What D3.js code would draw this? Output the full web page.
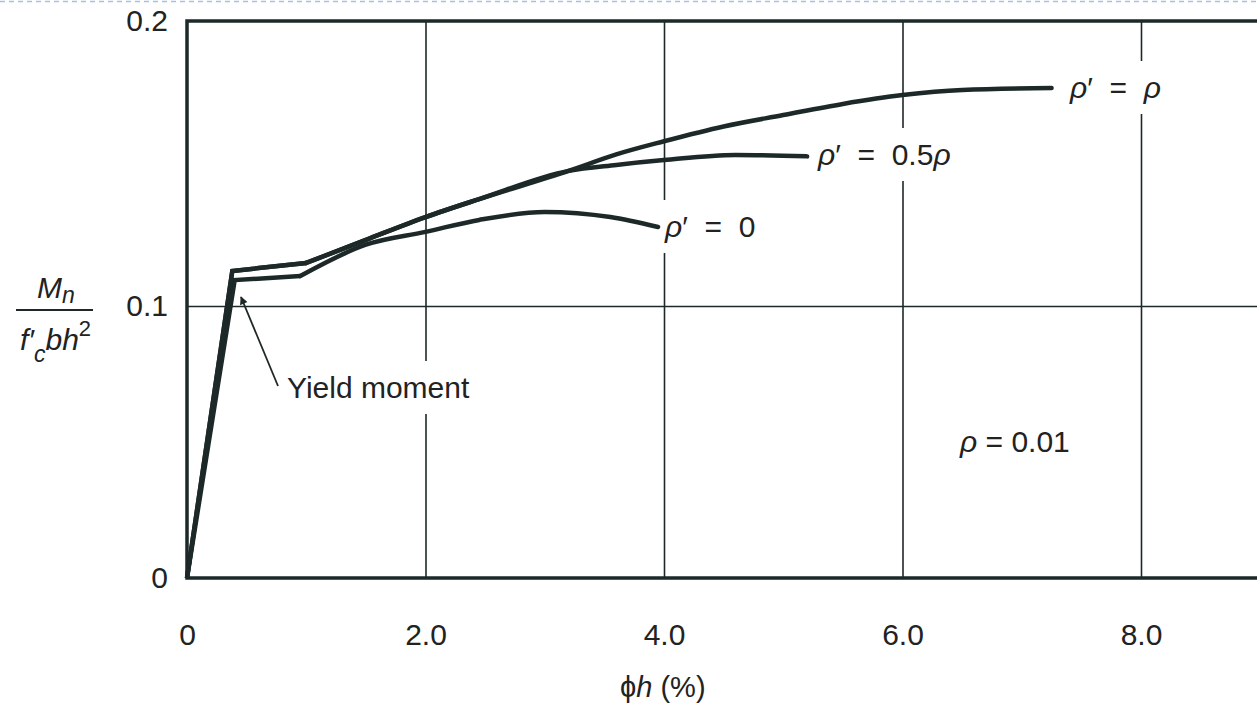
<!DOCTYPE html>
<html>
<head>
	<meta charset="utf-8">
	<title>Moment-curvature</title>
	<script src="https://d3js.org/d3.v7.min.js"></script>
	<style>
		body { margin: 0; background: #fff; }
		svg { display: block; }
		text { fill: #222; font-family: "Liberation Sans", Arial, sans-serif; }
		.tick text { font-family: "Liberation Sans Narrow", "Liberation Sans", Arial, sans-serif; font-size: 30px; }
	</style>
</head>
<body>
	<script>

		// curvature phi*h (%) and Mn / (f'c b h^2)
		var phiRho  = [0, 0.38, 1.0, 1.5, 2.0, 2.45, 3.2, 3.6, 4.0, 4.5, 5.0, 5.5, 6.0, 6.5, 7.25]
		var mRho    = [0, 0.1123, 0.1151, 0.1232, 0.1312, 0.1375, 0.1474, 0.1532, 0.1578, 0.1630, 0.1670, 0.1709, 0.1740, 0.1758, 0.1765]

		var phiHalf = [0, 0.38, 1.0, 1.5, 2.0, 2.45, 3.2, 3.6, 4.0, 4.6, 5.2]
		var mHalf   = [0, 0.1123, 0.1151, 0.1232, 0.1312, 0.1375, 0.1474, 0.1495, 0.1512, 0.1530, 0.1525]

		var phiZero = [0, 0.40, 0.95, 1.5, 2.0, 2.45, 3.0, 3.55, 3.95]
		var mZero   = [0, 0.1091, 0.1105, 0.1215, 0.1260, 0.1302, 0.1330, 0.1312, 0.1277]

		var xTicks = [0, 2, 4, 6, 8]
		var xTickLabels = ["0", "2.0", "4.0", "6.0", "8.0"]
		var yTicks = [0, 0.1, 0.2]
		var yTickLabels = ["0", "0.1", "0.2"]

		var W = 1257, H = 705
		var ink = "#1d2828"

		var svg = d3.select("body").append("svg")
			.attr("width", W)
			.attr("height", H)

		// scan is slightly stretched, so the y scale has a break at 0.1
		var x = d3.scaleLinear().domain([0, 9]).range([187, 1260.25])
		var y = d3.scaleLinear().domain([0, 0.1, 0.2]).range([578, 306, 21])

		// faint dashed edge of the scanned slide
		svg.append("line")
			.attr("x1", 0).attr("x2", W).attr("y1", 1.5).attr("y2", 1.5)
			.attr("stroke", "#a9bfe6").attr("stroke-width", 1.5)
			.attr("stroke-dasharray", "5,4")

		var gGrid = svg.append("g")
		var gMask = svg.append("g")
		var gCurves = svg.append("g")
		var gText = svg.append("g")

		// grid lines
		gGrid.append("g")
			.attr("transform", "translate(0," + y(0) + ")")
			.call(d3.axisBottom(x).tickValues([2, 4, 6, 8]).tickSize(-(y(0) - y(0.2))).tickFormat(""))
			.call(function (g) { g.select(".domain").remove() })
			.selectAll("line").attr("stroke", ink).attr("stroke-width", 1.6)

		gGrid.append("g")
			.attr("transform", "translate(" + x(0) + ",0)")
			.call(d3.axisLeft(y).tickValues([0.1]).tickSize(-(x(9) - x(0))).tickFormat(""))
			.call(function (g) { g.select(".domain").remove() })
			.selectAll("line").attr("stroke", ink).attr("stroke-width", 1.6)

		// frame
		gCurves.append("rect")
			.attr("x", x(0)).attr("y", y(0.2))
			.attr("width", x(9) - x(0)).attr("height", y(0) - y(0.2))
			.attr("fill", "none").attr("stroke", ink).attr("stroke-width", 3.5)

		// tick labels
		var xAxis = svg.append("g")
			.attr("transform", "translate(0," + y(0) + ")")
			.call(d3.axisBottom(x).tickValues(xTicks).tickSize(0).tickPadding(46)
				.tickFormat(function (d, i) { return xTickLabels[i] }))
		xAxis.select(".domain").remove()

		var yAxis = svg.append("g")
			.attr("transform", "translate(" + x(0) + ",0)")
			.call(d3.axisLeft(y).tickValues(yTicks).tickSize(0).tickPadding(19)
				.tickFormat(function (d, i) { return yTickLabels[i] }))
		yAxis.select(".domain").remove()
		svg.selectAll(".tick text").attr("fill", "#222")

		// curves: straight up to the kink at phi*h ~ 1, smooth afterwards
		var series = [
			{ phi: phiZero, m: mZero },
			{ phi: phiHalf, m: mHalf },
			{ phi: phiRho, m: mRho }
		]

		var straight = d3.line().x(function (d) { return x(d[0]) }).y(function (d) { return y(d[1]) })
		var smooth = d3.line().x(function (d) { return x(d[0]) }).y(function (d) { return y(d[1]) })
			.curve(d3.curveMonotoneX)

		series.forEach(function (s) {
			var pts = s.phi.map(function (p, i) { return [p, s.m[i]] })
			gCurves.append("path")
				.attr("d", straight(pts.slice(0, 3)))
				.attr("fill", "none").attr("stroke", ink).attr("stroke-width", 4.5)
				.attr("stroke-linejoin", "miter")
			gCurves.append("path")
				.attr("d", smooth(pts.slice(2)))
				.attr("fill", "none").attr("stroke", ink).attr("stroke-width", 4.5)
				.attr("stroke-linecap", "round")
		})

		// annotations; each one blanks out the grid behind it
		function note(xp, yp, parts, size) {
			var t = gText.append("text")
				.attr("x", xp).attr("y", yp)
				.attr("font-size", size || 30)
				.style("white-space", "pre")
			parts.forEach(function (p) {
				t.append("tspan").text(p[0]).attr("font-style", p[1] ? "italic" : "normal")
			})
			var b = t.node().getBBox()
			gMask.append("rect")
				.attr("x", b.x - 4).attr("y", b.y - 10)
				.attr("width", b.width + 8).attr("height", b.height + 20)
				.attr("fill", "#fff")
			return t
		}

		note(1070, 98, [["ρ", 1], ["′  =  ", 0], ["ρ", 1]])
		note(818, 165, [["ρ", 1], ["′  =  0.5", 0], ["ρ", 1]])
		note(665, 237, [["ρ", 1], ["′  =  0", 0]])
		note(960, 452, [["ρ", 1], [" = 0.01", 0]])
		note(287, 398, [["Yield moment", 0]])

		// arrow to the yield point
		svg.append("defs").append("marker")
			.attr("id", "head")
			.attr("viewBox", "0 0 10 10")
			.attr("refX", 9).attr("refY", 5)
			.attr("markerWidth", 11).attr("markerHeight", 8)
			.attr("markerUnits", "userSpaceOnUse")
			.attr("orient", "auto")
			.append("path").attr("d", "M0,0 L10,5 L0,10 z").attr("fill", ink)

		gCurves.append("line")
			.attr("x1", 278).attr("y1", 386)
			.attr("x2", 241).attr("y2", 297)
			.attr("stroke", ink).attr("stroke-width", 1.8)
			.attr("marker-end", "url(#head)")

		// x axis title
		var xt = svg.append("text")
			.attr("x", 620).attr("y", 697)
			.attr("font-size", 29)
		xt.append("tspan").text("ϕ")
		xt.append("tspan").text("h").attr("font-style", "italic")
		xt.append("tspan").text(" (%)")

		// y axis title as a fraction
		var num = svg.append("text")
			.attr("x", 37).attr("y", 298)
			.attr("font-size", 30).attr("font-style", "italic")
		num.append("tspan").text("M")
		num.append("tspan").text("n").attr("font-size", 23).attr("dy", 5)

		svg.append("line")
			.attr("x1", 16).attr("x2", 93).attr("y1", 310).attr("y2", 310)
			.attr("stroke", ink).attr("stroke-width", 2)

		var den = svg.append("text")
			.attr("x", 20).attr("y", 350)
			.attr("font-size", 30).attr("font-style", "italic")
		den.append("tspan").text("f′")
		den.append("tspan").text("c").attr("font-size", 23).attr("dy", 12)
		den.append("tspan").text("bh").attr("dy", -12)
		den.append("tspan").text("2").attr("font-size", 22).attr("font-style", "normal").attr("dy", -14)

	</script>
</body>
</html>
